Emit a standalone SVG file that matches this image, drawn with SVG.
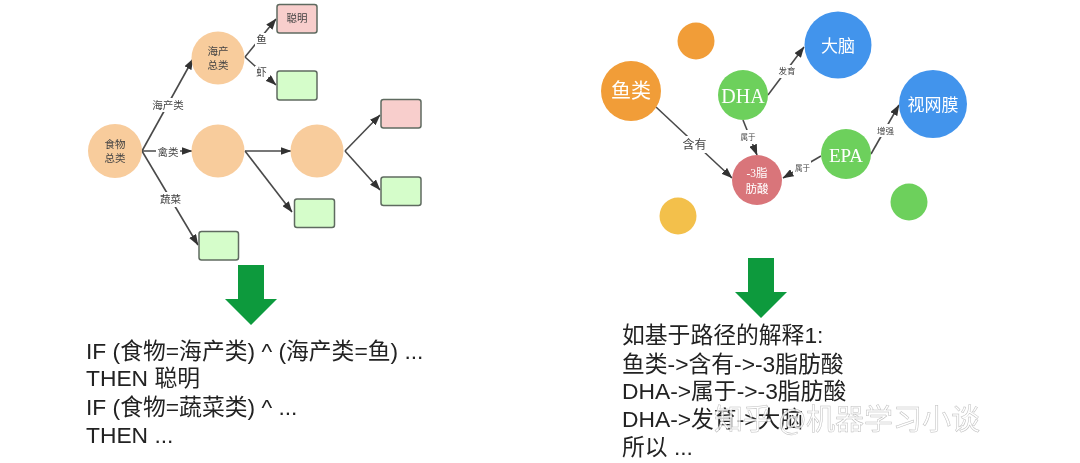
<svg xmlns="http://www.w3.org/2000/svg" width="1080" height="463" viewBox="0 0 1080 463">
<style>
text{font-family:"Liberation Serif","Noto Sans CJK SC",serif;text-anchor:middle;dominant-baseline:central}
.bg{fill:#fff}
.food{fill:#f8cc9c}
.pink{fill:#f8cecc;stroke:#5f6b60;stroke-width:1.5}
.green{fill:#d5fdca;stroke:#5f6b60;stroke-width:1.5}
.t{font-size:10.500px;fill:#444}
.e2{font-size:8.500px;fill:#444}
.e3{font-size:7.500px;fill:#444}
.w{fill:#fff}
.ln{fill:none;stroke:#4a4a4a;stroke-width:1.6;marker-end:url(#a)}
.lb{fill:#fff;stroke:none}
.big{fill:#0d9a3c}
.body{font-family:"Liberation Sans","Noto Sans CJK SC",sans-serif;font-size:22.800px;text-anchor:start;dominant-baseline:auto;fill:#222}
.wm{font-family:"Noto Sans CJK SC",sans-serif;font-size:29px;text-anchor:start;fill:#fff;fill-opacity:.8;stroke:#999;stroke-width:.5;stroke-opacity:.65;dominant-baseline:auto}
</style>
<defs>
<marker id="a" viewBox="0 0 11 8" refX="10.500" refY="4" markerWidth="11" markerHeight="8" markerUnits="userSpaceOnUse" orient="auto"><path d="M0 0L11 4L0 8z" fill="#333"/></marker>
<filter id="s" x="-5%" y="-5%" width="110%" height="110%"><feGaussianBlur stdDeviation="0.45"/></filter>
</defs>
<rect class="bg" width="1080" height="463"/>
<g filter="url(#s)">
<g id="connectors">
<path class="ln" d="M142 151L193 59"/>
<path class="ln" d="M142 151H192"/>
<path class="ln" d="M142 151L198 245"/>
<path class="ln" d="M245 57L276 19"/>
<path class="ln" d="M245 57L276 85"/>
<path class="ln" d="M245 151H291"/>
<path class="ln" d="M245 151L292 212"/>
<path class="ln" d="M345 151L380 115"/>
<path class="ln" d="M345 151L380 190"/>
<path class="ln" d="M656 107L732 178"/>
<path class="ln" d="M768 95L804 47"/>
<path class="ln" d="M743 120L757 155"/>
<path class="ln" d="M821 156L783 178"/>
<path class="ln" d="M871 154L899 105"/>
</g>
<g id="edge-labels">
<rect class="lb" x="151" y="98" width="34" height="14"/><text class="t" x="168" y="105.500">海产类</text>
<rect class="lb" x="156" y="145" width="24" height="13"/><text class="t" x="168" y="152">禽类</text>
<rect class="lb" x="158" y="192" width="25" height="15"/><text class="t" x="170.500" y="199.500">蔬菜</text>
<rect class="lb" x="255" y="33" width="13" height="13"/><text class="t" x="261.500" y="39">鱼</text>
<rect class="lb" x="255" y="66" width="13" height="13"/><text class="t" x="261.500" y="72">虾</text>
<rect class="lb" x="680" y="136" width="29" height="17"/><text x="694.500" y="144.500" style="font-size:12px;fill:#444">含有</text>
<rect class="lb" x="776" y="65" width="22" height="13"/><text class="e2" x="787" y="71">发育</text>
<rect class="lb" x="740" y="130" width="17" height="14"/><text class="e3" x="748" y="137.500">属于</text>
<rect class="lb" x="793" y="161" width="18" height="13"/><text class="e3" x="802.500" y="168">属于</text>
<rect class="lb" x="876" y="124" width="20" height="13"/><text class="e2" x="885.500" y="130.500">增强</text>
</g>
<g id="food-root"><circle class="food" cx="115" cy="151" r="27"/><text class="t" x="115" y="144">食物</text><text class="t" x="115" y="158">总类</text></g>
<g id="seafood"><circle class="food" cx="218" cy="58" r="26.500"/><text class="t" x="218" y="51">海产</text><text class="t" x="218" y="65">总类</text></g>
<g id="poultry"><circle class="food" cx="218" cy="151" r="26.500"/></g>
<g id="poultry-2"><circle class="food" cx="317" cy="151" r="26.500"/></g>
<g id="smart"><rect class="pink" x="277" y="4.500" width="40" height="28.500" rx="2.500"/><text class="t" x="297" y="18">聪明</text></g>
<g id="leaf-shrimp"><rect class="green" x="277" y="71" width="40" height="29" rx="2.500"/></g>
<g id="leaf-pink"><rect class="pink" x="381" y="99.500" width="40" height="28.500" rx="2.500"/></g>
<g id="leaf-right"><rect class="green" x="381" y="177" width="40" height="28.500" rx="2.500"/></g>
<g id="leaf-mid"><rect class="green" x="294.500" y="199" width="40" height="28.500" rx="2.500"/></g>
<g id="leaf-veg"><rect class="green" x="199" y="231.500" width="39.500" height="28.500" rx="2.500"/></g>
<g id="orange-small"><circle cx="696" cy="41" r="18.500" fill="#f19d38"/></g>
<g id="fish"><circle cx="631" cy="91" r="30" fill="#f19d38"/><text class="w" x="631" y="91" style="font-size:20px">鱼类</text></g>
<g id="dha"><circle cx="743" cy="95" r="25" fill="#6dd05c"/><text class="w" x="743" y="96" style="font-size:20px">DHA</text></g>
<g id="brain"><circle cx="838" cy="45" r="33.500" fill="#4394ec"/><text class="w" x="838" y="46" style="font-size:17px">大脑</text></g>
<g id="retina"><circle cx="933" cy="104" r="34" fill="#4394ec"/><text class="w" x="933" y="105" style="font-size:17px">视网膜</text></g>
<g id="epa"><circle cx="846" cy="154" r="25" fill="#6dd05c"/><text class="w" x="846" y="155" style="font-size:19px">EPA</text></g>
<g id="omega3"><circle cx="757" cy="180" r="25" fill="#d9757a"/><text class="w" x="757" y="173" style="font-size:11.500px">-3脂</text><text class="w" x="757" y="189" style="font-size:11.500px">肪酸</text></g>
<g id="yellow-small"><circle cx="678" cy="216" r="18.500" fill="#f3c04c"/></g>
<g id="green-small"><circle cx="909" cy="202" r="18.500" fill="#6dd05c"/></g>
<g id="arrow-left"><path class="big" d="M238 265H264V299H277L251 325L225 299H238z"/></g>
<g id="arrow-right"><path class="big" d="M748 258H774V292H787L761 318L735 292H748z"/></g>
<g id="rules">
<text class="body" x="86" y="359">IF (食物=海产类) ^ (海产类=鱼) ...</text>
<text class="body" x="86" y="386">THEN 聪明</text>
<text class="body" x="86" y="415">IF (食物=蔬菜类) ^ ...</text>
<text class="body" x="86" y="443">THEN ...</text>
</g>
<g id="paths">
<text class="body" x="622" y="343">如基于路径的解释1:</text>
<text class="body" x="622" y="372">鱼类-&gt;含有-&gt;-3脂肪酸</text>
<text class="body" x="622" y="399">DHA-&gt;属于-&gt;-3脂肪酸</text>
<text class="body" x="622" y="427">DHA-&gt;发育-&gt;大脑</text>
<text class="body" x="622" y="455">所以 ...</text>
</g>
<text class="wm" x="714" y="430">知乎 @机器学习小谈</text>
</g>
</svg>
